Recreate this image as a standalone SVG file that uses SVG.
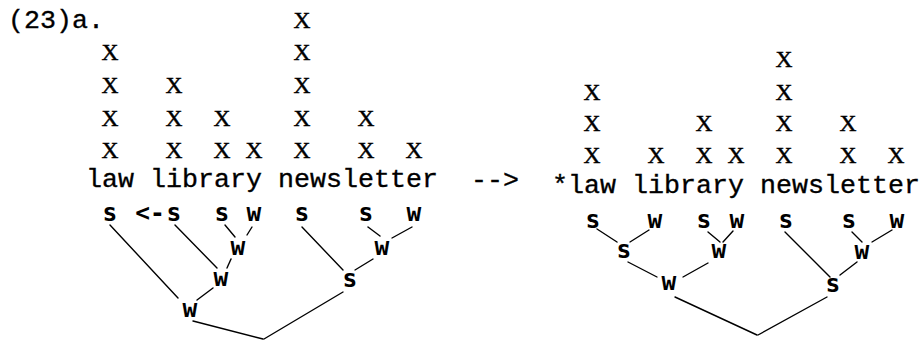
<svg xmlns="http://www.w3.org/2000/svg" width="922" height="341" viewBox="0 0 922 341">
<style>
.tw{font-family:"Liberation Mono","Courier New",monospace;font-size:26.67px;fill:#000;stroke:#000;stroke-width:0.35}
.x{font-family:"Liberation Serif","Times New Roman",serif;font-size:23.5px;fill:#000;stroke:#000;stroke-width:0.45;text-anchor:middle}
.lb{font-family:"DejaVu Sans Mono","Liberation Mono",monospace;font-weight:bold;font-size:24.5px;fill:#000;text-anchor:middle}
.ln line{stroke:#000;stroke-width:1.4;stroke-linecap:round}
</style>
<rect width="922" height="341" fill="#fff"/>
<text class="tw" x="8" y="28">(23)a.</text>
<g id="grid-left" class="x">
<text x="110" y="60">X</text><text x="110" y="93">X</text><text x="110" y="126">X</text><text x="110" y="158">X</text>
<text x="174" y="93">X</text><text x="174" y="126">X</text><text x="174" y="158">X</text>
<text x="222" y="126">X</text><text x="222" y="158">X</text>
<text x="254" y="158">X</text>
<text x="302" y="28">X</text><text x="302" y="60">X</text><text x="302" y="93">X</text><text x="302" y="126">X</text><text x="302" y="158">X</text>
<text x="366" y="126">X</text><text x="366" y="158">X</text>
<text x="414" y="158">X</text>
</g>
<g id="grid-right" class="x">
<text x="592" y="100">X</text><text x="592" y="131">X</text><text x="592" y="163">X</text>
<text x="656" y="163">X</text>
<text x="704" y="131">X</text><text x="704" y="163">X</text>
<text x="736" y="163">X</text>
<text x="784" y="67">X</text><text x="784" y="100">X</text><text x="784" y="131">X</text><text x="784" y="163">X</text>
<text x="848" y="131">X</text><text x="848" y="163">X</text>
<text x="896" y="163">X</text>
</g>
<text id="words-left" class="tw" x="86" y="187">law library newsletter</text>
<text id="arrow" class="tw" x="471" y="188">--&gt;</text>
<text id="words-right" class="tw" x="552" y="193">*law library newsletter</text>

<g id="connectors" class="ln">
<line x1="110" y1="225" x2="178" y2="298"/>
<line x1="175" y1="225" x2="217" y2="268"/>
<line x1="225" y1="225" x2="235" y2="237"/>
<line x1="252" y1="227" x2="247" y2="235"/>
<line x1="231" y1="259" x2="227" y2="268"/>
<line x1="213" y1="288" x2="197" y2="300"/>
<line x1="193" y1="321" x2="263" y2="339"/>
<line x1="302" y1="227" x2="343" y2="270"/>
<line x1="368" y1="227" x2="380" y2="236"/>
<line x1="412" y1="227" x2="392" y2="238"/>
<line x1="373" y1="259" x2="355" y2="270"/>
<line x1="343" y1="292" x2="264" y2="339"/>
<line x1="597" y1="229" x2="617" y2="242"/>
<line x1="649" y1="230" x2="630" y2="242"/>
<line x1="708" y1="232" x2="720" y2="242"/>
<line x1="733" y1="231" x2="723" y2="242"/>
<line x1="628" y1="262" x2="657" y2="277"/>
<line x1="708" y1="263" x2="683" y2="277"/>
<line x1="785" y1="232" x2="830" y2="277"/>
<line x1="852" y1="232" x2="862" y2="242"/>
<line x1="892" y1="230" x2="872" y2="242"/>
<line x1="857" y1="262" x2="840" y2="275"/>
<line x1="675" y1="297" x2="757" y2="335"/>
<line x1="758" y1="335" x2="827" y2="297"/>
</g>

<g id="L-s1" class="lb"><text x="110" y="221">s</text></g>
<g id="L-arrow" class="lb"><text x="150" y="221">&lt;-</text></g>
<g id="L-s2" class="lb"><text x="174" y="221">s</text></g>
<g id="L-s3" class="lb"><text x="222" y="221">s</text></g>
<g id="L-w1" class="lb"><text x="254" y="221">w</text></g>
<g id="L-s4" class="lb"><text x="302" y="221">s</text></g>
<g id="L-s5" class="lb"><text x="366" y="221">s</text></g>
<g id="L-w2" class="lb"><text x="414" y="221">w</text></g>
<g id="L-w3" class="lb"><text x="238" y="255">w</text></g>
<g id="L-w4" class="lb"><text x="382" y="255">w</text></g>
<g id="L-w5" class="lb"><text x="221" y="286">w</text></g>
<g id="L-s6" class="lb"><text x="350" y="287">s</text></g>
<g id="L-w6" class="lb"><text x="190" y="317">w</text></g>

<g id="R-s1" class="lb"><text x="593" y="228">s</text></g>
<g id="R-w1" class="lb"><text x="655" y="228">w</text></g>
<g id="R-s2" class="lb"><text x="704" y="228">s</text></g>
<g id="R-w2" class="lb"><text x="737" y="228">w</text></g>
<g id="R-s3" class="lb"><text x="786" y="228">s</text></g>
<g id="R-s4" class="lb"><text x="849" y="228">s</text></g>
<g id="R-w3" class="lb"><text x="897" y="228">w</text></g>
<g id="R-s5" class="lb"><text x="624" y="258">s</text></g>
<g id="R-w4" class="lb"><text x="719" y="258">w</text></g>
<g id="R-w5" class="lb"><text x="862" y="259">w</text></g>
<g id="R-w6" class="lb"><text x="669" y="290">w</text></g>
<g id="R-s6" class="lb"><text x="833" y="292">s</text></g>
</svg>
